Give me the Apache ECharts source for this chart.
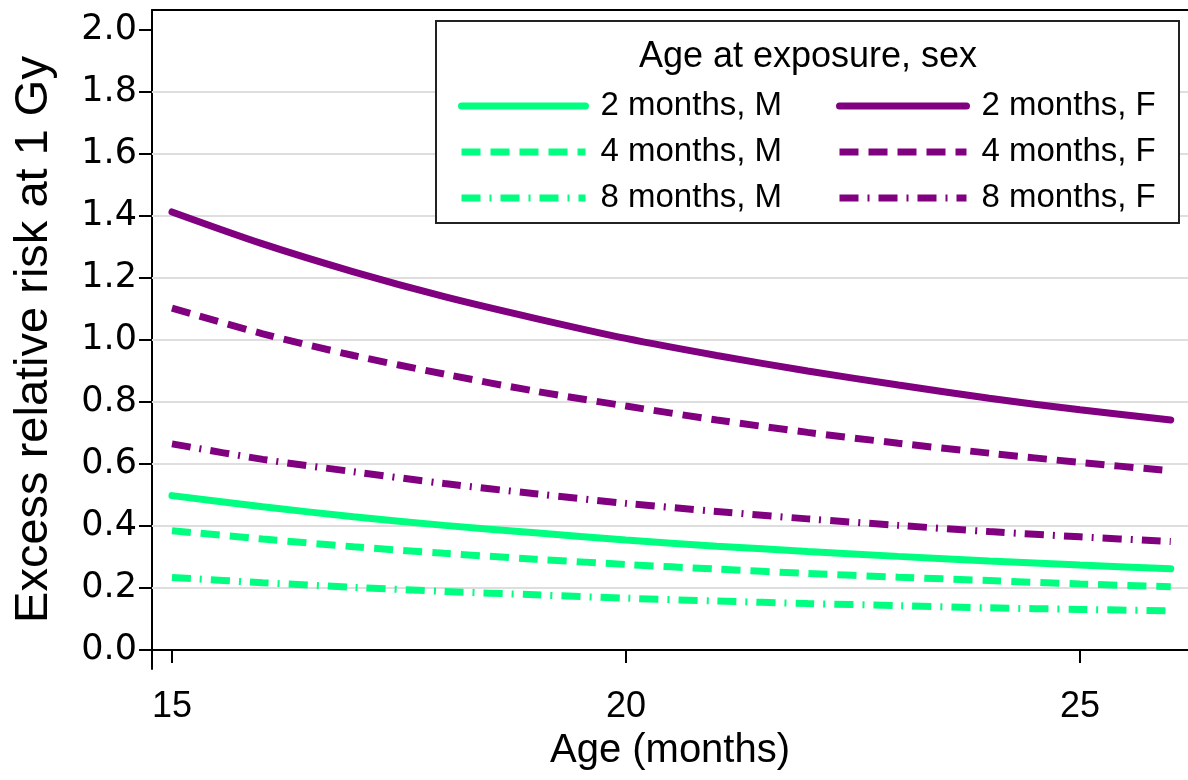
<!DOCTYPE html>
<html>
<head>
<meta charset="utf-8">
<title>Excess relative risk by age</title>
<script src="https://cdn.jsdelivr.net/npm/echarts@6/dist/echarts.min.js"></script>
<style>
  html, body { margin: 0; padding: 0; background: #fff; }
  #chart { width: 1188px; height: 780px; }
</style>
</head>
<body>
<div id="chart"></div>
<script>
// Attained age (months)
const ages = [15, 16, 17, 18, 19, 20, 21, 22, 23, 24, 25, 26];

// Excess relative risk at 1 Gy, by age at exposure and sex
const err2M = [0.498, 0.462, 0.430, 0.402, 0.378, 0.355, 0.335, 0.318, 0.302, 0.287, 0.274, 0.262];
const err4M = [0.385, 0.358, 0.333, 0.312, 0.293, 0.276, 0.261, 0.247, 0.235, 0.224, 0.213, 0.204];
const err8M = [0.234, 0.217, 0.202, 0.189, 0.178, 0.167, 0.158, 0.150, 0.143, 0.136, 0.131, 0.126];
const err2F = [1.413, 1.310, 1.220, 1.140, 1.070, 1.005, 0.950, 0.900, 0.855, 0.812, 0.775, 0.742];
const err4F = [1.103, 1.020, 0.950, 0.890, 0.835, 0.787, 0.742, 0.702, 0.667, 0.635, 0.605, 0.578];
const err8F = [0.665, 0.615, 0.575, 0.537, 0.504, 0.473, 0.447, 0.423, 0.402, 0.382, 0.365, 0.350];

// Axis ticks
const xTicks = [15, 20, 25];
const yTicks = [0.0, 0.2, 0.4, 0.6, 0.8, 1.0, 1.2, 1.4, 1.6, 1.8, 2.0];
const yGridLines = [0.2, 0.4, 0.6, 0.8, 1.0, 1.2, 1.4, 1.6, 1.8];

const GREEN = '#00ff80';
const PURPLE = '#800080';
const FONT = 'Liberation Sans, Arial, sans-serif';

const DASHED = [19, 10];
const DASHDOT = [19, 9, 2, 9];

function pairs(vals) {
  return ages.map((a, i) => [a, vals[i]]);
}

function lineSeries(name, vals, color, dash) {
  return {
    name: name,
    type: 'line',
    data: pairs(vals),
    symbol: 'none',
    smooth: 0.3,
    lineStyle: {
      color: color,
      width: 7,
      type: dash || 'solid',
      cap: dash ? 'butt' : 'round'
    },
    itemStyle: { color: color },
    z: 3
  };
}

const series = [
  lineSeries('2 months, M', err2M, GREEN),
  lineSeries('4 months, M', err4M, GREEN, DASHED),
  lineSeries('8 months, M', err8M, GREEN, DASHDOT),
  lineSeries('2 months, F', err2F, PURPLE),
  lineSeries('4 months, F', err4F, PURPLE, DASHED),
  lineSeries('8 months, F', err8F, PURPLE, DASHDOT)
];

// Horizontal reference lines, kept beneath the curves and the legend box
series.push({
  type: 'line',
  data: [],
  silent: true,
  z: 1,
  markLine: {
    silent: true,
    z: 1,
    symbol: 'none',
    label: { show: false },
    lineStyle: { color: '#dedede', width: 2, type: 'solid' },
    emphasis: { disabled: true },
    data: yGridLines.map(v => ({ yAxis: v }))
  }
});

const legendText = {
  fontFamily: FONT,
  fontSize: 33,
  color: '#000',
  lineHeight: 34,
  padding: [0, 0, 0, 10]
};

const legendCommon = {
  orient: 'vertical',
  top: 84,
  z: 6,
  itemHeight: 14,
  itemGap: 12,
  selectedMode: false,
  textStyle: legendText,
  lineStyle: { width: 7 },
  itemStyle: { opacity: 0, borderWidth: 0 }
};

const option = {
  animation: false,
  backgroundColor: '#fff',
  grid: {
    left: 152,
    top: 10,
    right: 0,
    bottom: 111,
    show: false
  },
  xAxis: [
    {
      type: 'value',
      min: 14.78,
      max: 26.19,
      name: 'Age (months)',
      nameLocation: 'middle',
      nameGap: 62,
      nameTextStyle: { fontFamily: FONT, fontSize: 40, color: '#000' },
      axisLine: { show: true, lineStyle: { color: '#000', width: 2 } },
      axisTick: { show: true, length: 13, lineStyle: { color: '#000', width: 2 }, customValues: xTicks },
      axisLabel: { show: true, customValues: xTicks, margin: 20, fontFamily: FONT, fontSize: 36, color: '#000' },
      splitLine: { show: false }
    },
    {
      // top edge of the plot region
      type: 'value',
      position: 'top',
      min: 14.78,
      max: 26.19,
      axisLine: { show: true, onZero: false, lineStyle: { color: '#000', width: 2 } },
      axisTick: { show: false },
      axisLabel: { show: false },
      splitLine: { show: false }
    }
  ],
  yAxis: {
    type: 'value',
    min: -0.0613,
    max: 2.0645,
    name: 'Excess relative risk at 1 Gy',
    nameLocation: 'middle',
    nameGap: 94,
    nameTextStyle: { fontFamily: FONT, fontSize: 47, color: '#000' },
    axisLine: { show: true, onZero: false, lineStyle: { color: '#000', width: 2 } },
    axisTick: { show: true, length: 13, lineStyle: { color: '#000', width: 2 }, customValues: yTicks },
    axisLabel: {
      show: true,
      customValues: yTicks,
      margin: 15,
      fontFamily: 'DejaVu Sans, sans-serif',
      fontSize: 35,
      color: '#000',
      formatter: v => v.toFixed(1)
    },
    splitLine: { show: false }
  },
  legend: [
    Object.assign({}, legendCommon, {
      left: 453,
      itemWidth: 124,
      data: ['2 months, M', '4 months, M', '8 months, M']
    }),
    Object.assign({}, legendCommon, {
      left: 831,
      itemWidth: 127,
      data: ['2 months, F', '4 months, F', '8 months, F']
    })
  ],
  graphic: [
    {
      type: 'rect',
      shape: { x: 436, y: 21, width: 743, height: 202 },
      style: { fill: '#fff', stroke: '#222', lineWidth: 2 },
      z: 4,
      silent: true
    },
    {
      type: 'text',
      x: 808,
      y: 57,
      style: {
        text: 'Age at exposure, sex',
        fontFamily: FONT,
        fontSize: 36,
        fill: '#000',
        align: 'center',
        verticalAlign: 'middle'
      },
      z: 5,
      silent: true
    }
  ],
  series: series
};

const chart = echarts.init(document.getElementById('chart'), null, { renderer: 'canvas' });
chart.setOption(option);
</script>
</body>
</html>
